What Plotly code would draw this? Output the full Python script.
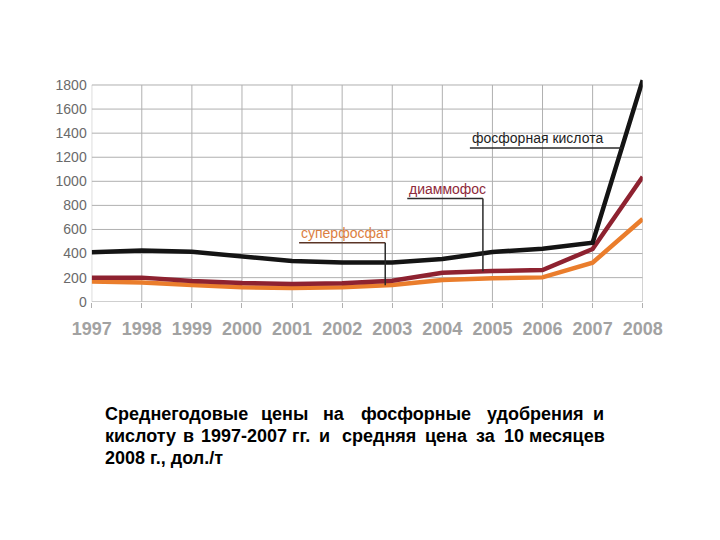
import plotly.graph_objects as go

years = [1997, 1998, 1999, 2000, 2001, 2002, 2003, 2004, 2005, 2006, 2007, 2008]
acid = [410, 425, 415, 375, 338, 325, 325, 355, 413, 440, 490, 1840]
dap = [200, 200, 172, 155, 148, 153, 175, 241, 255, 263, 438, 1038]
superph = [168, 160, 139, 120, 113, 120, 139, 180, 194, 202, 324, 687]
y_ticks = [0, 200, 400, 600, 800, 1000, 1200, 1400, 1600, 1800]
label_acid = "фосфорная кислота"
label_dap = "диаммофос"
label_super = "суперфосфат"
caption_lines = [
    "Среднегодовые цены на фосфорные удобрения и",
    "кислоту в 1997-2007 гг. и средняя цена за 10 месяцев",
    "2008 г., дол./т",
]

W, H = 720, 540
px_l, px_r = 91.7, 642.7
px_y0, px_y1800 = 301.7, 85.0
ymax = 1860
scale = (px_y0 - px_y1800) / 1800
px_top = px_y0 - ymax * scale

NARROW = "Liberation Sans Narrow, Arial Narrow, Liberation Sans, Arial, sans-serif"
GRID = "#b0b0b0"

fig = go.Figure()
for vals, col in [(superph, "#ea7d2c"), (dap, "#8e2230"), (acid, "#141414")]:
    fig.add_trace(go.Scatter(x=years, y=vals, mode="lines",
                             line=dict(color=col, width=4.5), hoverinfo="skip"))

shapes = []
for yv in years:
    shapes.append(dict(type="line", xref="x", yref="y", x0=yv, x1=yv, y0=0, y1=1800,
                       line=dict(color=GRID, width=1), layer="below"))
for tv in y_ticks:
    shapes.append(dict(type="line", xref="x", yref="y", x0=years[0], x1=years[-1], y0=tv, y1=tv,
                       line=dict(color=GRID, width=1), layer="below"))

LC = "#2a2a2a"
shapes += [
    dict(type="line", xref="x", yref="y", x0=2004.55, x1=2007.58, y0=1277, y1=1277, line=dict(color=LC, width=1.5)),
    dict(type="line", xref="x", yref="y", x0=2003.30, x1=2004.81, y0=857, y1=857, line=dict(color=LC, width=1.5)),
    dict(type="line", xref="x", yref="y", x0=2004.81, x1=2004.81, y0=857, y1=252, line=dict(color=LC, width=1.5)),
    dict(type="line", xref="x", yref="y", x0=2001.14, x1=2002.86, y0=490, y1=490, line=dict(color="#5a3426", width=1.5)),
    dict(type="line", xref="x", yref="y", x0=2002.86, x1=2002.86, y0=490, y1=137, line=dict(color=LC, width=1.5)),
]

LF = "Liberation Sans, Arial, sans-serif"
ann = [
    dict(x=2004.55, y=1277, xref="x", yref="y", text=label_acid, showarrow=False, xanchor="left",
         yanchor="bottom", yshift=0, font=dict(family=LF, size=14, color="#1e1e1e")),
    dict(x=2003.30, y=857, xref="x", yref="y", text=label_dap, showarrow=False, xanchor="left",
         yanchor="bottom", yshift=0, font=dict(family=LF, size=14, color="#8e2a3a")),
    dict(x=2001.14, y=490, xref="x", yref="y", text=label_super, showarrow=False, xanchor="left",
         yanchor="bottom", yshift=0, font=dict(family=LF, size=14, color="#dc7f42")),
]

# justified caption: each word placed where it sits in the reference
cap_y = [414, 436, 458]
CF = dict(family="Liberation Sans, Arial, sans-serif", size=18, color="#000000")
word_x = [
    [103, 284, 333.5, 416, 535.5, 606],
    [103, 188.5, 244, 300.5, 324, 378.5, 446, 486, 514, 607],
]
for i, line in enumerate(caption_lines):
    words = line.split(" ")
    if i < 2:
        for j, (w, x) in enumerate(zip(words, word_x[i])):
            anc = "left" if j == 0 else ("right" if j == len(words) - 1 else "center")
            ann.append(dict(x=x / W, y=1 - cap_y[i] / H, xref="paper", yref="paper", text="<b>%s</b>" % w,
                            showarrow=False, xanchor=anc, yanchor="middle", font=CF))
    else:
        ann.append(dict(x=103 / W, y=1 - cap_y[i] / H, xref="paper", yref="paper", text="<b>%s</b>" % line,
                        showarrow=False, xanchor="left", yanchor="middle", font=CF))

fig.update_layout(
    width=W, height=H, margin=dict(l=0, r=0, t=0, b=0),
    paper_bgcolor="white", plot_bgcolor="white", showlegend=False,
    shapes=shapes, annotations=ann,
    xaxis=dict(domain=[px_l / W, px_r / W], range=[years[0], years[-1]], tickvals=years,
               ticktext=["<b>%d</b>" % y for y in years], showgrid=False, zeroline=False,
               showline=False, ticks="outside", ticklen=5, tickcolor=GRID, tickangle=0,
               automargin=False, ticklabelstandoff=6,
               tickfont=dict(family=NARROW, size=18, color="#a2a2a2")),
    yaxis=dict(domain=[1 - px_y0 / H, 1 - px_top / H], range=[0, ymax], tickvals=y_ticks,
               showgrid=False, zeroline=False, showline=False, ticks="", automargin=False,
               ticklabelstandoff=4,
               tickfont=dict(family=NARROW, size=14, color="#6a6a6a")),
)

fig.write_html("out.html")
